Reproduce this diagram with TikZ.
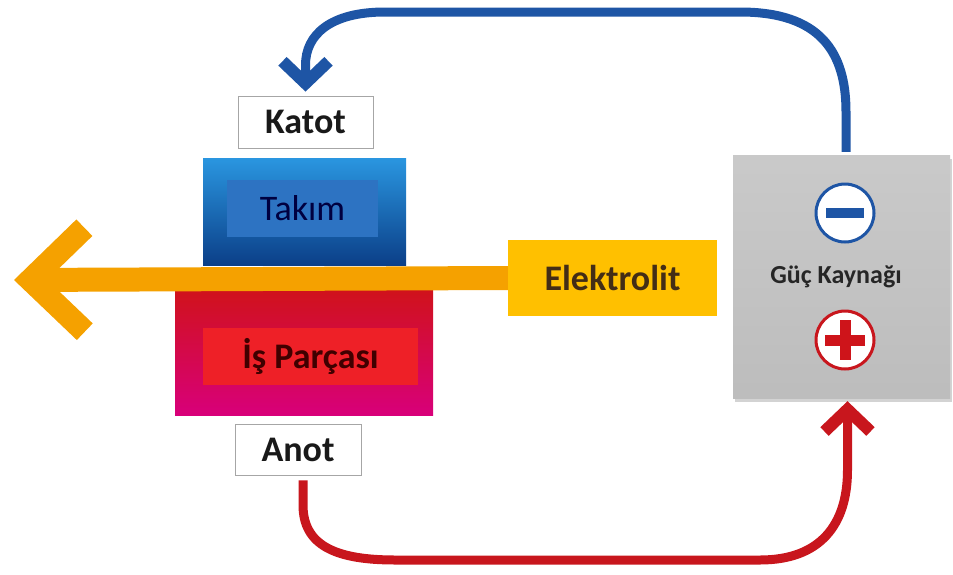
\documentclass[tikz,border=0pt]{standalone}
\usepackage{fontspec}
\setmainfont{Carlito}
\usetikzlibrary{arrows.meta,shadows}
\definecolor{cblue}{HTML}{1E55A5}
\definecolor{cred}{HTML}{C8161D}
\definecolor{corange}{HTML}{F5A100}
\definecolor{cyel}{HTML}{FFC000}
\definecolor{tblue1}{HTML}{2A96E0}
\definecolor{tblue2}{HTML}{1565BF}
\definecolor{tblue3}{HTML}{0B3F88}
\definecolor{tinner}{HTML}{2D73C2}
\definecolor{rtop}{HTML}{D0121B}
\definecolor{rmid}{HTML}{DC1424}
\definecolor{rbot}{HTML}{D8007A}
\definecolor{rinner}{HTML}{EE2027}
\tikzset{
  lbl/.style={draw=black!35,fill=white,line width=0.8pt,font=\fontsize{36}{40}\selectfont\bfseries,text=black!90},
  inner/.style={draw=none,font=\fontsize{36}{40}\selectfont},
  flow/.style={line width=9pt},
}
\begin{document}
\begin{tikzpicture}[x=1pt,y=-1pt]
\useasboundingbox (0,0) rectangle (953,574);
% Tool block
\node[draw=none,minimum width=203pt,minimum height=107pt,inner sep=0pt,
      top color=tblue1,middle color=tblue2,bottom color=tblue3] (takimbox) at (304.5,211.5) {};
\node[inner,fill=tinner,minimum width=151pt,minimum height=57pt,inner sep=0pt,text=blue!25!black] (takim) at (302.5,208.5) {Takım};
% Workpiece block
\node[draw=none,minimum width=258pt,minimum height=125pt,inner sep=0pt,
      top color=rtop,middle color=rmid,bottom color=rbot] (isbox) at (304,352.5) {};
\node[inner,fill=rinner,minimum width=215pt,minimum height=57pt,inner sep=0pt,font=\fontsize{36}{40}\selectfont\bfseries,text=red!25!black] (is) at (310.5,356.5) {İş Parçası};
% labels
\node[lbl,minimum width=135pt,minimum height=52pt,inner sep=0pt] (katot) at (305.5,122) {Katot};
\node[lbl,minimum width=126pt,minimum height=51pt,inner sep=0pt] (anot) at (298,449.5) {Anot};
% Electrolyte
\node[draw=none,fill=cyel,minimum width=209pt,minimum height=76pt,inner sep=0pt,
      font=\fontsize{36}{40}\selectfont\bfseries,text=brown!35!black] (elek) at (612.5,278) {Elektrolit};
\coordinate (tip) at (14,280);
\draw[corange,line width=24pt,-{Straight Barb[length=54pt,width=104pt,line width=23pt]}] (elek.west) -- (tip);
% Power supply
\node[draw=none,minimum width=217pt,minimum height=243pt,inner sep=0pt,
      top color=gray!42,bottom color=gray!52,drop shadow={shadow xshift=2pt,shadow yshift=-4pt,opacity=0.35}] (pwr) at (841.5,276.5) {};
\node[font=\fontsize{26}{30}\selectfont\bfseries,text=black!85] (guc) at (836,277) {Güç Kaynağı};
\node[circle,draw=cblue,line width=3pt,fill=white,minimum size=58pt,inner sep=0pt] (minus) at (845,213) {};
\fill[cblue] ([xshift=-19pt,yshift=-5pt]minus.center) rectangle ([xshift=19pt,yshift=5pt]minus.center);
\node[circle,draw=cred,line width=3pt,fill=white,minimum size=58pt,inner sep=0pt] (plus) at (845,340) {};
\fill[cred!90!red] ([xshift=-20pt,yshift=-5.5pt]plus.center) rectangle ([xshift=20pt,yshift=5.5pt]plus.center);
\fill[cred!90!red] ([xshift=-5.5pt,yshift=-20pt]plus.center) rectangle ([xshift=5.5pt,yshift=20pt]plus.center);
% Connectors
\coordinate (bstart) at ([xshift=4.5pt,yshift=3pt]pwr.north);
\draw[cblue,flow,-{Straight Barb[length=22pt,width=46pt,line width=12pt]}]
  (bstart) -- ++(0,-40) .. controls +(0,-60) and (820,12) .. (740,12) -- (385,12)
  .. controls (330,12) and (305.5,35) .. (305.5,65) -- ([yshift=4pt]katot.north);
\coordinate (rstart) at ([xshift=5pt,yshift=-5pt]anot.south);
\coordinate (rend) at ([xshift=6pt,yshift=-3pt]pwr.south);
\draw[cred,flow,-{Straight Barb[length=22pt,width=46pt,line width=12pt]}]
  (rstart) -- (303,505) .. controls (303,545) and (335,560) .. (395,560) -- (760,560)
  .. controls (820,560) and (847.5,525) .. (847.5,470) -- (rend);
\end{tikzpicture}
\end{document}
